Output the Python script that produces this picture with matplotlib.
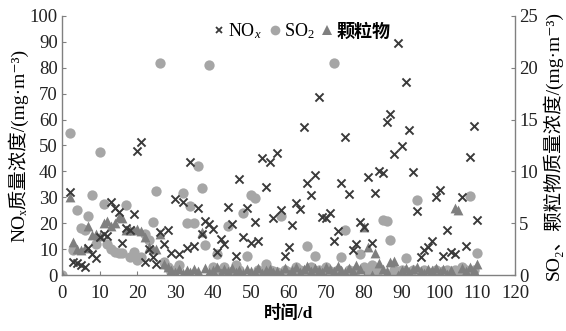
import numpy as np
import matplotlib
matplotlib.use("Agg")
import matplotlib.pyplot as plt
from matplotlib.lines import Line2D

nan = np.nan
plt.rcParams['font.family'] = ['Liberation Serif', 'Noto Sans CJK SC', 'DejaVu Serif']
plt.rcParams['mathtext.fontset'] = 'custom'
plt.rcParams['mathtext.rm'] = 'Liberation Serif'
plt.rcParams['mathtext.it'] = 'Liberation Serif:italic'

# day index 0..110
days = np.arange(0, 111)

# NOx, left axis (mg/m3)
nox = [nan, nan, 32, 5, 4.5, 3.8, 3, 10.3, 8, 6.4,
       14.5, 16, 15, 28, 26, 24.5, 12.2, 18, 17.5, 23.6,
       48, 51.5, 5, 10, 7, 4.3, 16.5, 12, 17.4, 8.7,
       29.3, 8.2, 28.3, 10.6, 43.8, 11.4, 26, 16, 21, 19.8,
       17.8, 9, 14, 12.1, 26.4, 19.7, 7.3, 37.2, 14.5, 26,
       12.2, 20.4, 13.1, 45, 34, 43.8, 22.1, 47.1, 25, 7.5,
       11, 19.3, 27.8, 25.5, 57, 35.4, 31, 38.6, 68.8, 22.5,
       21.9, 24.1, 13.1, 17.1, 35.4, 53.2, 31.4, 9.7, 11.8, 20.6,
       18.4, 38, 12.3, 31.7, 40, 39.2, 58.9, 62.1, 46.9, 89.7,
       49.7, 74.6, 56.1, 39.9, 24.7, 7, 9.6, 11, 13.1, 30.2,
       33, 7.5, 17.4, 8.8, 8.2, nan, 30, 11.2, 45.7, 57.5,
       21.2]

# SO2, right axis (mg/m3)
so2 = [0, nan, 13.7, 2.4, 6.25, 4.5, 4.35, 5.7, 7.75, 3,
       11.9, 6.9, 3, 2.5, 2.2, 2.1, 2.15, 6.8, 1.75, 2.25,
       1.45, 1.75, 4, 3.4, 5.1, 8.1, 20.5, 1.25, 0.75, 0.25,
       0.5, 1, 7.9, 5.05, 6.7, 5, 10.5, 8.4, 2.9, 20.3,
       0.75, 2, 0.5, 0.75, 4.7, 0.4, 1, 0.5, 6, 1.8,
       7.75, 7.4, 0.5, 0.25, 1.1, 0.5, 0.4, 0.25, 5.7, 0.5,
       0.25, 0.15, 0.75, 0.5, 0.25, 2.8, 0.75, 1.8, 0.5, 0.25,
       0.75, 0.4, 20.5, 0.5, 1.75, 4.3, 0.5, 0.25, 0.5, 2,
       0.75, 0.25, 1, 0.25, 0.5, 5.3, 5.2, 3.35, 0.5, 0.25,
       0.5, 1.6, 0.25, 0.5, 7.25, 0.25, 0.5, 0.25, 0.15, 0.5,
       0.25, 0.4, 0.5, 0.25, 0.5, 0.25, 0.75, 0.5, 7.6, 0.5,
       2.1]

# particulate matter, right axis (mg/m3)
pm = [0, nan, 7.55, 3.2, 2.5, 2.4, 2.6, 4.7, 3.85, 4,
      3.75, 5, 5.25, 4.7, 5, 5.6, 5.5, 4.35, 4.35, 4.35,
      4.4, 4.25, 3.7, 2.75, 2.5, 2.5, 4, 1.1, 0.8, 0.5,
      0.3, 0.6, 0.2, 0.5, 0.3, 0.6, 0.4, 4.2, 0.7, 0.3,
      0.5, 0.8, 0.2, 0.6, 0.4, 0.7, 0.3, 0.5, 0.2, 0.6,
      0.4, 0.3, 0.7, 0.2, 0.5, 0.6, 0.3, 0.4, 0.2, 0.7,
      0.1, 0.5, 0.8, 0.3, 0.6, 0.9, 0.4, 0.7, 0.5, 0.3,
      0.8, 0.6, 0.4, 0.9, 0.5, 0.3, 0.7, 0.4, 1.0, 0.6,
      4.6, 2.7, 0.0, 2.1, 1.2, 0.6, 0.4, 1.3, 1.4, 0.0,
      0.5, 0.7, 0.3, 0.6, 0.8, 0.4, 0.2, 0.6, 0.5, 0.7,
      0.3, 0.6, 0.1, 0.5, 6.5, 6.3, 0.7, 0.4, 0.8, 0.5,
      1.1]

c_nox = '#3a3a3a'
c_so2 = '#a6a6a6'
c_pm = '#7f7f7f'
spine_c = '#808080'

fig = plt.figure(figsize=(5.66, 3.31), dpi=100)
ax = fig.add_axes([0.1095, 0.169, 0.8005, 0.783])
ax2 = ax.twinx()

ax2.scatter(days, so2, marker='o', s=55, color=c_so2, linewidths=0, zorder=2)
ax2.scatter(days, pm, marker='^', s=50, color=c_pm, linewidths=0, zorder=3)
ax.scatter(days, nox, marker='x', s=34, color=c_nox, linewidths=1.4, zorder=4)

# NOx marks drawn above the right-axis series
ax.set_zorder(ax2.get_zorder() + 1)
ax.patch.set_visible(False)

ax.set_xlim(0, 120)
ax.set_ylim(0, 100)
ax2.set_ylim(0, 25)
ax.set_xticks(np.arange(0, 121, 10))
ax.set_yticks(np.arange(0, 101, 10))
ax2.set_yticks(np.arange(0, 26, 5))

for a in (ax, ax2):
    a.spines['top'].set_visible(False)
    for s in ('left', 'right', 'bottom'):
        a.spines[s].set_color(spine_c)
        a.spines[s].set_linewidth(1.0)
    a.tick_params(direction='in', length=3, color=spine_c, labelsize=13.5,
                  labelcolor='#222222', pad=3)
ax.tick_params(axis='x', pad=7)
ax.spines['right'].set_visible(False)
ax2.spines['left'].set_visible(False)
ax2.spines['bottom'].set_visible(False)

ax.set_xlabel('时间/d', fontsize=12.5, fontweight='bold', labelpad=2)
ax.set_ylabel('NOₓ质量浓度/(mg·m⁻³)', fontsize=14, labelpad=1)
ax2.set_ylabel('SO₂、颗粒物质量浓度/(mg·m⁻³)', fontsize=14, labelpad=3)

handles = [
    Line2D([], [], marker='x', ls='', color=c_nox, markersize=5, markeredgewidth=1.3),
    Line2D([], [], marker='o', ls='', color=c_so2, markersize=7, markeredgewidth=0),
    Line2D([], [], marker='^', ls='', color=c_pm, markersize=7, markeredgewidth=0),
]
labels = [r'NO$_x$', r'SO$_2$', '颗粒物']
leg = ax.legend(handles, labels, loc='upper center', bbox_to_anchor=(0.53, 1.02),
                ncol=3, frameon=False, fontsize=13, handlelength=0.6,
                handletextpad=0.2, columnspacing=0.4, borderaxespad=0.2)
leg.get_texts()[2].set_fontweight('bold')

fig.savefig('out.png', dpi=100)
